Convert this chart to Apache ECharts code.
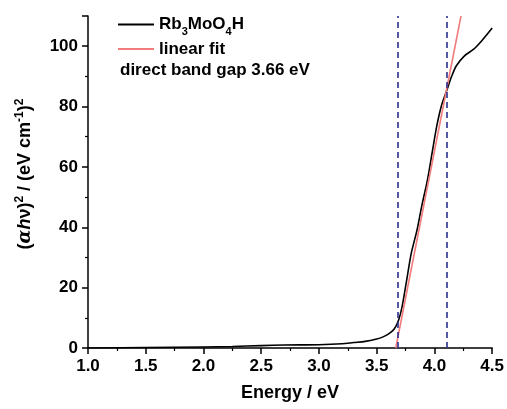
<!DOCTYPE html>
<html>
<head>
<meta charset="utf-8">
<script src="https://cdn.jsdelivr.net/npm/echarts@6/dist/echarts.min.js"></script>
<style>
  html, body { margin: 0; padding: 0; background: #fff; }
</style>
</head>
<body>
<div id="main" style="width: 507px; height: 409px"></div>
<script>
// 吸收谱数据 (Energy / eV , (αhν)^2)
const energy = [1.0, 1.5, 2.0, 2.25, 2.5, 2.7, 3.0, 3.2, 3.3, 3.4, 3.5, 3.55, 3.6, 3.65, 3.69, 3.72, 3.76, 3.80, 3.85, 3.89, 3.94, 3.98, 4.02, 4.06, 4.11, 4.15, 4.19, 4.26, 4.34, 4.41, 4.5]
const absorb = [0, 0.15, 0.35, 0.5, 0.8, 1.0, 1.1, 1.4, 1.8, 2.2, 3.0, 3.6, 4.6, 6.2, 9.3, 13.7, 22.6, 31.5, 39.2, 47, 55.8, 64.7, 73.5, 80.2, 85.7, 90.1, 93.5, 96.8, 99, 101.8, 106]
// 线性拟合
const fitX = [3.665, 4.23]
const fitY = [0, 110]
// 虚线位置
const guideX = [3.68, 4.11]

const font = "'Liberation Sans', Arial, sans-serif"

const curve = energy.map((x, i) => [x, absorb[i]])
const fit = fitX.map((x, i) => [x, fitY[i]])

const chart = echarts.init(document.getElementById('main'))

const option = {
  animation: false,
  textStyle: { fontFamily: font },
  grid: { left: 88, right: 13, top: 16, bottom: 61 },
  legend: {
    orient: 'vertical',
    left: 113,
    top: 11,
    itemWidth: 36,
    itemHeight: 14,
    itemGap: 3,
    icon: 'path://M0,6L36,6L36,8L0,8Z',
    textStyle: {
      fontFamily: font, fontSize: 17, fontWeight: 'bold', color: '#000',
      rich: {
        n: { fontFamily: font, fontSize: 17, fontWeight: 'bold', color: '#000', lineHeight: 20 },
        sub: { fontFamily: font, fontSize: 11, fontWeight: 'bold', color: '#000', lineHeight: 11, verticalAlign: 'bottom', padding: [0, 0, -3, 0] }
      }
    },
    formatter: function (name) {
      if (name === 'Rb3MoO4H') return '{n|Rb}{sub|3}{n|MoO}{sub|4}{n|H}'
      return '{n|' + name + '}'
    },
    data: ['Rb3MoO4H', 'linear fit']
  },
  graphic: [{
    type: 'text',
    left: 120,
    top: 62,
    style: { text: 'direct band gap 3.66 eV', font: 'bold 17px ' + font, fill: '#000' }
  }],
  xAxis: {
    type: 'value',
    min: 1.0,
    max: 4.5,
    interval: 0.5,
    name: 'Energy / eV',
    nameLocation: 'middle',
    nameGap: 36,
    nameTextStyle: { fontFamily: font, fontSize: 18, fontWeight: 'bold', color: '#000' },
    axisLine: { lineStyle: { color: '#000', width: 1.5 } },
    axisTick: { inside: false, length: 6, lineStyle: { color: '#000', width: 1.5 } },
    minorTick: { show: true, splitNumber: 2, length: 3, lineStyle: { color: '#000', width: 1.2 } },
    axisLabel: {
      margin: 10, color: '#000', fontFamily: font, fontSize: 17, fontWeight: 'bold',
      formatter: v => v.toFixed(1)
    },
    splitLine: { show: false }
  },
  yAxis: {
    type: 'value',
    min: 0,
    max: 110,
    interval: 20,
    name: '{n|(}{a|α}{it|h}{n|ν)}{sup|2}{n| / (eV cm}{sup|-1}{n|)}{sup|2}',
    nameLocation: 'middle',
    nameGap: 52,
    nameTextStyle: {
      fontFamily: font, fontSize: 18, fontWeight: 'bold', color: '#000',
      padding: [0, 0, 0, 16],
      rich: {
        n: { fontFamily: font, fontSize: 18, fontWeight: 'bold', color: '#000', lineHeight: 22 },
        a: { fontFamily: 'DejaVu Serif', fontSize: 18, fontStyle: 'italic', color: '#000', lineHeight: 22 },
        it: { fontFamily: font, fontSize: 18, fontWeight: 'bold', fontStyle: 'italic', color: '#000', lineHeight: 22 },
        sup: { fontFamily: font, fontSize: 12, fontWeight: 'bold', color: '#000', lineHeight: 12, verticalAlign: 'top' }
      }
    },
    axisLine: { show: true, lineStyle: { color: '#000', width: 1.5 } },
    axisTick: { show: true, inside: false, length: 6, lineStyle: { color: '#000', width: 1.5 } },
    minorTick: { show: true, splitNumber: 2, length: 3, lineStyle: { color: '#000', width: 1.2 } },
    axisLabel: { margin: 10, showMaxLabel: false, color: '#000', fontFamily: font, fontSize: 17, fontWeight: 'bold' },
    splitLine: { show: false }
  },
  series: [
    {
      name: 'Rb3MoO4H',
      type: 'line',
      data: curve,
      smooth: 0.3,
      symbol: 'none',
      lineStyle: { color: '#000', width: 1.6 },
      itemStyle: { color: '#000' },
      z: 3,
      markLine: {
        silent: true,
        symbol: 'none',
        label: { show: false },
        lineStyle: { color: '#2b2f8c', type: [6, 4], width: 1.6 },
        data: guideX.map(x => ({ xAxis: x }))
      }
    },
    {
      name: 'linear fit',
      type: 'line',
      data: fit,
      symbol: 'none',
      lineStyle: { color: '#f27c7c', width: 1.6 },
      itemStyle: { color: '#f27c7c' },
      z: 4
    }
  ]
}

chart.setOption(option)
</script>
</body>
</html>
